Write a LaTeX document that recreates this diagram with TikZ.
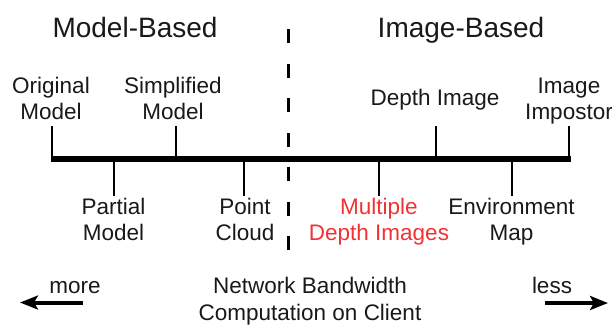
\documentclass[tikz,border=0pt]{standalone}
\usepackage{fontspec}
\setmainfont{Liberation Sans}
\usetikzlibrary{arrows.meta,positioning}
\definecolor{hotred}{RGB}{240,50,50}
\tikzset{
  heading/.style={font=\fontsize{28}{32}\selectfont, anchor=base, inner sep=0pt, text=black!90},
  tag/.style={font=\fontsize{22.5}{26}\selectfont, align=center, anchor=base, inner sep=0pt, text=black!90},
  axis/.style={line width=6pt, draw=black},
  notch/.style={line width=2.5pt, draw=black},
  divider/.style={line width=3pt, dash pattern=on 14pt off 20.5pt, draw=black},
  trend/.style={-{Stealth[length=18pt,width=14pt,inset=4pt]}, line width=4pt, draw=black}
}

\begin{document}
\begin{tikzpicture}[x=1pt,y=-1pt]
  \useasboundingbox (0,0) rectangle (612,325);

  % headings and divider
  \node[heading] (mb) at (135,37) {Model-Based};
  \node[heading] (ib) at (461,37) {Image-Based};
  \coordinate (divtop) at (288,29);
  \coordinate (divbot) at (288,251);
  \draw[divider] (divtop) -- (divbot);

  % main axis
  \coordinate (axl) at (51,158.5);
  \coordinate (axr) at (571,158.5);
  \draw[axis] (axl) -- (axr);

  % ticks above and below
  \foreach \x/\n in {52/orig,176/simp,436/dimg,569/imp}{
    \coordinate (\n-b) at (\x,158.5);
    \coordinate (\n-e) at (\x,126);
    \draw[notch] (\n-b) -- (\n-e);
  }
  \foreach \x/\n in {114/part,244/pcl,379/mdi,512/env}{
    \coordinate (\n-b) at (\x,158.5);
    \coordinate (\n-e) at (\x,196);
    \draw[notch] (\n-b) -- (\n-e);
  }

  % base anchor sits on the last line
  \node[tag] (origt) at (51,119) {Original\\Model};
  \node[tag] (simpt) at (173,119) {Simplified\\Model};
  \node[tag] (dimgt) at (435,105) {Depth Image};
  \node[tag] (impt) at (569,119) {Image\\Impostor};
  \node[tag] (partt) at (113.5,240) {Partial\\Model};
  \node[tag] (pclt) at (245,240) {Point\\Cloud};
  \node[tag, text=hotred] (mdit) at (379,240) {Multiple\\Depth Images};
  \node[tag] (envt) at (511.5,240) {Environment\\Map};

  % bottom legend
  \node[tag] (more) at (75,293) {more};
  \node[tag] (cost) at (310,320) {Network Bandwidth\\[1pt]Computation on Client};
  \node[tag] (less) at (552,293) {less};
  \coordinate (ml) at (83,302.5);
  \coordinate (mt) at (20,302.5);
  \coordinate (ll) at (545,303);
  \coordinate (lt) at (608,303);
  \draw[trend] (ml) -- (mt);
  \draw[trend] (ll) -- (lt);
\end{tikzpicture}
\end{document}
